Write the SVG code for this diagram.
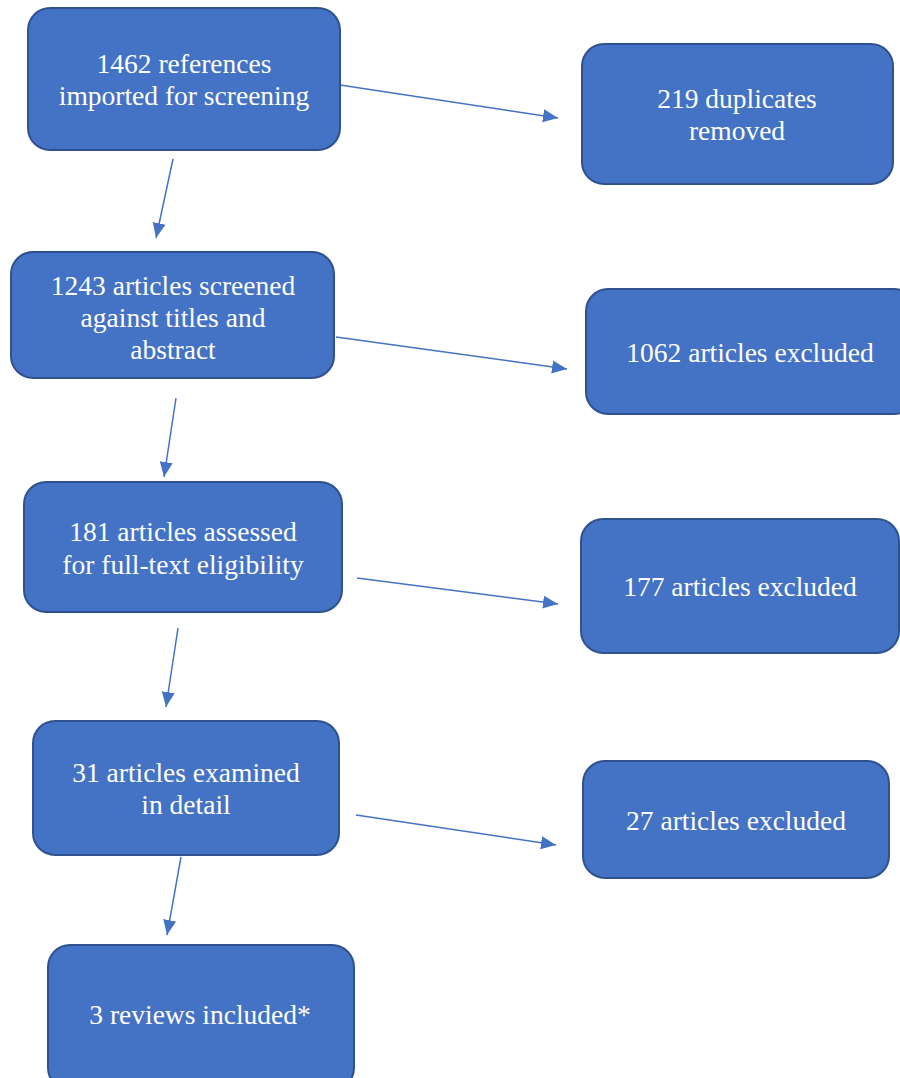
<svg xmlns="http://www.w3.org/2000/svg" width="900" height="1078" viewBox="0 0 900 1078">
<style>
.box{fill:#4472C4;stroke:#2F528F;stroke-width:2}
.c{stroke:#4472C4;stroke-width:1.5;fill:none;marker-end:url(#ah)}
</style>
<defs>
<marker id="ah" markerUnits="userSpaceOnUse" markerWidth="16" markerHeight="14" refX="15" refY="7" orient="auto">
<path d="M0,0.5 L15,7 L0,13.5 z" fill="#4472C4"/>
</marker>
</defs>
<rect width="900" height="1078" fill="#FFFFFF"/>
<g id="connectors">
<line class="c" x1="173" y1="159" x2="156" y2="238"/>
<line class="c" x1="340" y1="85" x2="558" y2="118"/>
<line class="c" x1="336" y1="337" x2="567" y2="369"/>
<line class="c" x1="176" y1="398" x2="164" y2="477"/>
<line class="c" x1="357" y1="578" x2="558" y2="604"/>
<line class="c" x1="178" y1="628" x2="166" y2="707"/>
<line class="c" x1="356" y1="815" x2="556" y2="845"/>
<line class="c" x1="181" y1="857" x2="167" y2="935"/>
</g>
<g font-family="Liberation Serif, Times New Roman, serif" font-size="27.5" fill="#FFFFFF" text-anchor="middle">
<g id="n1"><rect class="box" x="28" y="8" width="312" height="142" rx="22"/>
<text x="184" y="73">1462 references</text><text x="184" y="105">imported for screening</text></g>
<g id="n2"><rect class="box" x="582" y="44" width="311" height="140" rx="22"/>
<text x="737" y="108">219 duplicates</text><text x="737" y="140">removed</text></g>
<g id="n3"><rect class="box" x="11" y="252" width="323" height="126" rx="22"/>
<text x="173" y="295">1243 articles screened</text><text x="173" y="327">against titles and</text><text x="173" y="359">abstract</text></g>
<g id="n4"><rect class="box" x="586" y="289" width="330" height="125" rx="22"/>
<text x="750" y="362">1062 articles excluded</text></g>
<g id="n5"><rect class="box" x="24" y="482" width="318" height="130" rx="22"/>
<text x="183" y="541">181 articles assessed</text><text x="183" y="574">for full-text eligibility</text></g>
<g id="n6"><rect class="box" x="581" y="519" width="318" height="134" rx="22"/>
<text x="740" y="596">177 articles excluded</text></g>
<g id="n7"><rect class="box" x="33" y="721" width="306" height="134" rx="22"/>
<text x="186" y="782">31 articles examined</text><text x="186" y="814">in detail</text></g>
<g id="n8"><rect class="box" x="583" y="761" width="306" height="117" rx="22"/>
<text x="736" y="830">27 articles excluded</text></g>
<g id="n9"><rect class="box" x="48" y="945" width="306" height="145" rx="22"/>
<text x="200" y="1024">3 reviews included*</text></g>
</g>
</svg>
